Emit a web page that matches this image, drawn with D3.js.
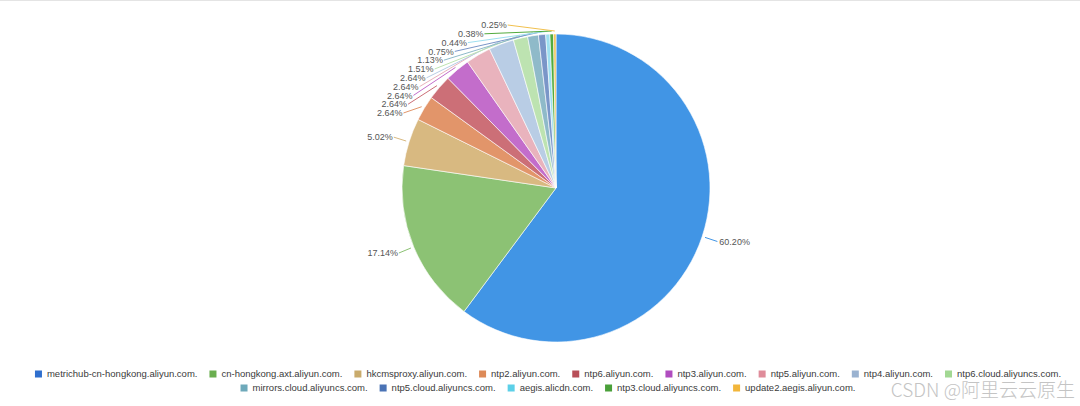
<!DOCTYPE html>
<html>
<head>
<meta charset="utf-8">
<script src="https://cdn.jsdelivr.net/npm/d3@7"></script>
<style>
  html, body { margin: 0; padding: 0; background: #fff; }
  svg { display: block; }
</style>
</head>
<body>
<svg id="chart" width="1080" height="406"></svg>
<script>
const categories = [
  "metrichub-cn-hongkong.aliyun.com.",
  "cn-hongkong.axt.aliyun.com.",
  "hkcmsproxy.aliyun.com.",
  "ntp2.aliyun.com.",
  "ntp6.aliyun.com.",
  "ntp3.aliyun.com.",
  "ntp5.aliyun.com.",
  "ntp4.aliyun.com.",
  "ntp6.cloud.aliyuncs.com.",
  "mirrors.cloud.aliyuncs.com.",
  "ntp5.cloud.aliyuncs.com.",
  "aegis.alicdn.com.",
  "ntp3.cloud.aliyuncs.com.",
  "update2.aegis.aliyun.com."
];
const values = [60.20, 17.14, 5.02, 2.64, 2.64, 2.64, 2.64, 2.64, 1.51, 1.13, 0.75, 0.44, 0.38, 0.25];
const sliceColors = ["#4195e5", "#8cc274", "#d8b981", "#e2956a", "#cc6f77", "#c36dcb", "#e9b3bd",
                     "#b9cde5", "#bde3b1", "#8fbac9", "#7a96c8", "#9edff0", "#52ab3e", "#f1c04e"];
const legendColors = ["#2f6fce", "#6aae4f", "#c9ab6c", "#dd8a58", "#b84f58", "#b04dbf", "#df8c9a",
                      "#9ab2d0", "#a2d893", "#6ea9ba", "#4a73b5", "#5cd0e8", "#4aa03a", "#f2b63b"];

const svg = d3.select("#chart");
const W = 1080;
svg.append("line").attr("x1", 0).attr("x2", W).attr("y1", 0.5).attr("y2", 0.5)
  .attr("stroke", "#e4e4e4").attr("stroke-width", 1);

const cx = 556, cy = 188, r = 154, R2 = 170;
const labelTop = 25, labelGap = 8.8;

const pie = d3.pie().sort(null).value(d => d.value).startAngle(0).endAngle(2 * Math.PI);
const data = categories.map((c, i) => ({ name: c, value: values[i], i }));
const arcs = pie(data);
const arcGen = d3.arc().innerRadius(0).outerRadius(r);

const g = svg.append("g").attr("transform", `translate(${cx},${cy})`);
g.selectAll("path.slice").data(arcs).join("path")
  .attr("class", "slice")
  .attr("d", arcGen)
  .attr("fill", d => sliceColors[d.data.i])
  .attr("stroke", "#fff").attr("stroke-width", 0.6);

// label layout
const labels = arcs.map(d => {
  const mid = (d.startAngle + d.endAngle) / 2;
  return {
    d, mid,
    side: Math.sin(mid) < 0 ? "left" : "right",
    y0: cy - Math.cos(mid) * R2
  };
});
["left", "right"].forEach(side => {
  const arr = labels.filter(l => l.side === side).sort((a, b) => a.y0 - b.y0 || b.mid - a.mid);
  let prev = -Infinity;
  arr.forEach((l, k) => {
    let y = Math.max(l.y0, k === 0 ? labelTop : prev + labelGap);
    l.y = y; prev = y;
    const dy = y - cy;
    const dx = Math.sqrt(Math.max(0, R2 * R2 - dy * dy));
    l.x = side === "left" ? cx - dx : cx + dx;
  });
});

svg.selectAll("path.leader").data(labels).join("path")
  .attr("class", "leader")
  .attr("d", l => {
    const sx = cx + Math.sin(l.mid) * (r + 3), sy = cy - Math.cos(l.mid) * (r + 3);
    return `M${sx},${sy}L${l.x},${l.y}`;
  })
  .attr("fill", "none")
  .attr("stroke", l => sliceColors[l.d.data.i])
  .attr("stroke-width", 1);

svg.selectAll("text.plabel").data(labels).join("text")
  .attr("class", "plabel")
  .attr("x", l => l.side === "left" ? l.x - 1 : l.x + 2)
  .attr("y", l => l.y)
  .attr("dy", "0.35em")
  .attr("text-anchor", l => l.side === "left" ? "end" : "start")
  .attr("font-family", "'Liberation Sans', Arial, sans-serif")
  .attr("font-size", 9)
  .attr("fill", "#555")
  .text(l => l.d.data.value.toFixed(2) + "%");

// legend
const legendFont = 9.5, sq = 7, pad = 5, itemGap = 12, maxRow = 1060, legendCenter = 548;
const rowYs = [374, 388];
const lg = svg.append("g");
const items = categories.map((c, i) => {
  const t = lg.append("text").attr("font-family", "'Liberation Sans', Arial, sans-serif")
    .attr("font-size", legendFont)
    .attr("fill", "#3a3a3a").text(c);
  return { c, i, t, w: t.node().getComputedTextLength() };
});
const rows = [[]];
let rowW = 0;
items.forEach(it => {
  const iw = sq + pad + it.w;
  const add = (rows[rows.length - 1].length ? itemGap : 0) + iw;
  if (rowW + add > maxRow && rows[rows.length - 1].length) { rows.push([]); rowW = 0; }
  const cur = rows[rows.length - 1];
  rowW += (cur.length ? itemGap : 0) + iw;
  cur.push(it);
});
rows.forEach((row, ri) => {
  const total = row.reduce((s, it, k) => s + sq + pad + it.w + (k ? itemGap : 0), 0);
  let x = legendCenter - total / 2;
  const y = rowYs[ri];
  row.forEach(it => {
    lg.append("rect").attr("x", x).attr("y", y - sq / 2).attr("width", sq).attr("height", sq)
      .attr("fill", legendColors[it.i]);
    it.t.attr("x", x + sq + pad).attr("y", y).attr("dy", "0.35em");
    x += sq + pad + it.w + itemGap;
  });
});

// watermark
svg.append("text").attr("x", 1075).attr("y", 390).attr("dy", "0.35em")
  .attr("text-anchor", "end")
  .attr("font-family", "'Noto Sans CJK SC', 'Noto Sans', sans-serif")
  .attr("font-size", 19).attr("font-weight", 300)
  .attr("fill", "#c4c4c4")
  .text("CSDN @阿里云云原生");
</script>
</body>
</html>
